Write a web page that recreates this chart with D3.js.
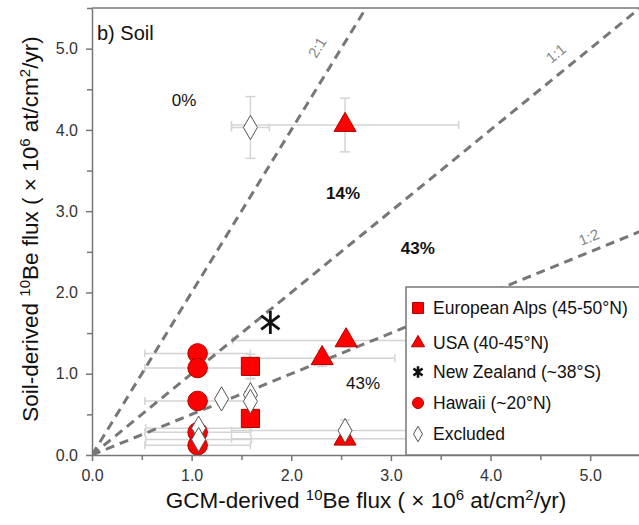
<!DOCTYPE html>
<html><head><meta charset="utf-8">
<script src="https://cdn.jsdelivr.net/npm/d3@7"></script>
<style>body{margin:0;background:#fff;}svg{display:block;font-family:"Liberation Sans",Arial,sans-serif;}</style>
</head><body><svg id="c" width="639" height="525"></svg>
<script>
// ---- data ----
const xTicks = [0, 1, 2, 3, 4, 5];
const yTicks = [0, 1, 2, 3, 4, 5];
const minorTicks = [0.5, 1.5, 2.5, 3.5, 4.5, 5.5];
const ratioLines = [{label: "2:1", slope: 2}, {label: "1:1", slope: 1}, {label: "1:2", slope: 0.5}];
const regionLabels = [
  {text: "0%", x: 0.924, y: 4.37, bold: false},
  {text: "14%", x: 2.52, y: 3.226, bold: true},
  {text: "43%", x: 3.27, y: 2.55, bold: true},
  {text: "43%", x: 2.72, y: 0.886, bold: false}
];
const alpsX = [1.59, 1.59], alpsY = [1.09, 0.45], alpsXerr = [0, 0], alpsYerr = [0.15, 0.1];
const usaX = [2.54, 2.55, 2.31, 2.54], usaY = [4.06, 1.41, 1.19, 0.2], usaXerr = [1.14, 1.14, 0.73, 1.14], usaYerr = [0.33, 0.08, 0.1, 0.08];
const nzX = [1.79], nzY = [1.63], nzXerr = [0], nzYerr = [0];
const hawaiiX = [1.06, 1.06, 1.06, 1.06, 1.06], hawaiiY = [1.25, 1.07, 0.665, 0.28, 0.12], hawaiiXerr = [0.53, 0.53, 0.53, 0.53, 0.53], hawaiiYerr = [0.05, 0.05, 0.05, 0.05, 0.05];
const exclX = [1.59, 1.30, 1.59, 1.59, 1.07, 1.07, 2.54], exclY = [4.03, 0.69, 0.74, 0.66, 0.33, 0.19, 0.30], exclXerr = [0.19, 0, 0, 0, 0.53, 0.53, 1.14], exclYerr = [0.38, 0, 0.2, 0, 0.05, 0.05, 0.13];
const legendLabels = ["European Alps (45-50°N)", "USA (40-45°N)", "New Zealand (~38°S)", "Hawaii (~20°N)", "Excluded"];

// ---- scales ----
const svg = d3.select("#c");
const x = d3.scaleLinear().domain([0, 5.5]).range([92, 640]);
const y = d3.scaleLinear().domain([0, 5.5]).range([455, 8]);
const axisCol = "#777";

// custom asterisk (vertical bar + X)
const symbolStar = {
  draw(ctx, size) {
    const r = Math.sqrt(size) / 2;
    ctx.moveTo(0, -r); ctx.lineTo(0, r);
    ctx.moveTo(-r * 0.8, -r * 0.6); ctx.lineTo(r * 0.8, r * 0.6);
    ctx.moveTo(-r * 0.8, r * 0.6); ctx.lineTo(r * 0.8, -r * 0.6);
  }
};

const zip = (xs, ys, xe, ye) => xs.map((v, i) => ({x: v, y: ys[i], xe: xe[i], ye: ye[i]}));
const groups = [
  {key: "alps", data: zip(alpsX, alpsY, alpsXerr, alpsYerr), sym: d3.symbolSquare, size: 330, lsize: 120, fill: "#f00", stroke: "#b00000"},
  {key: "usa", data: zip(usaX, usaY, usaXerr, usaYerr), sym: d3.symbolTriangle, size: 210, lsize: 75, fill: "#f00", stroke: "#b00000"},
  {key: "nz", data: zip(nzX, nzY, nzXerr, nzYerr), sym: symbolStar, size: 520, lsize: 130, fill: "none", stroke: "#111", sw: 2.8, lsw: 2.6},
  {key: "hawaii", data: zip(hawaiiX, hawaiiY, hawaiiXerr, hawaiiYerr), sym: d3.symbolCircle, size: 300, lsize: 95, fill: "#f00", stroke: "#b00000"},
  {key: "excl", data: zip(exclX, exclY, exclXerr, exclYerr), sym: d3.symbolDiamond, size: 170, lsize: 70, fill: "#fff", stroke: "#555"}
];

// clip
svg.append("defs").append("clipPath").attr("id", "pc").append("rect")
  .attr("x", 92).attr("y", 8).attr("width", 548).attr("height", 447);

const plot = svg.append("g").attr("clip-path", "url(#pc)");

// error bars
const eb = plot.append("g").attr("stroke", "#d4d4d4").attr("stroke-width", 1.5).attr("fill", "none");
groups.forEach(g => g.data.forEach(d => {
  if (d.xe > 0) {
    eb.append("line").attr("x1", x(d.x - d.xe)).attr("x2", x(d.x + d.xe)).attr("y1", y(d.y)).attr("y2", y(d.y));
    [d.x - d.xe, d.x + d.xe].forEach(v => eb.append("line").attr("x1", x(v)).attr("x2", x(v)).attr("y1", y(d.y) - 4).attr("y2", y(d.y) + 4));
  }
  if (d.ye > 0) {
    eb.append("line").attr("x1", x(d.x)).attr("x2", x(d.x)).attr("y1", y(d.y - d.ye)).attr("y2", y(d.y + d.ye));
    [d.y - d.ye, d.y + d.ye].forEach(v => eb.append("line").attr("x1", x(d.x) - 5).attr("x2", x(d.x) + 5).attr("y1", y(v)).attr("y2", y(v)));
  }
}));

// ratio lines
ratioLines.forEach(r => {
  const xe = Math.min(5.5, 5.5 / r.slope);
  plot.append("line").attr("x1", x(0)).attr("y1", y(0)).attr("x2", x(xe)).attr("y2", y(xe * r.slope))
    .attr("stroke", "#777").attr("stroke-width", 3).attr("stroke-dasharray", "9,6");
});
const lineLabelPos = {"2:1": [2.44, 21], "1:1": [4.77, 18], "1:2": [5.04, 14]};
ratioLines.forEach(r => {
  const [lx, off] = lineLabelPos[r.label], ly = lx * r.slope;
  const ang = -Math.atan((y(0) - y(r.slope)) / (x(1) - x(0))) * 180 / Math.PI;
  const px = x(lx), py = y(ly);
  svg.append("text").attr("transform", `translate(${px},${py}) rotate(${ang}) translate(0,${-off})`)
    .attr("text-anchor", "middle").attr("dy", "0.35em").attr("font-size", 15).attr("fill", "#888").text(r.label);
});

// markers
groups.forEach(g => {
  plot.append("g").selectAll("path").data(g.data).join("path")
    .attr("transform", d => `translate(${x(d.x)},${y(d.y)})`)
    .attr("d", d3.symbol().type(g.sym).size(g.size))
    .attr("fill", g.fill).attr("stroke", g.stroke).attr("stroke-width", g.sw || 1);
});

// region labels
regionLabels.forEach(l => {
  svg.append("text").attr("x", x(l.x)).attr("y", y(l.y)).attr("dy", "0.35em").attr("text-anchor", "middle")
    .attr("font-size", 17).attr("font-weight", l.bold ? "bold" : "normal").attr("fill", "#111").text(l.text);
});

// axes
const xAxis = svg.append("g").attr("transform", "translate(0,455)")
  .call(d3.axisBottom(x).tickValues(xTicks).tickFormat(d3.format(".1f")).tickSize(6).tickSizeOuter(0));
const yAxis = svg.append("g").attr("transform", "translate(92,0)")
  .call(d3.axisLeft(y).tickValues(yTicks).tickFormat(d3.format(".1f")).tickSize(6).tickSizeOuter(0));
svg.append("g").attr("transform", "translate(0,455)").call(d3.axisBottom(x).tickValues(minorTicks).tickFormat("").tickSize(5).tickSizeOuter(0)).select(".domain").remove();
svg.append("g").attr("transform", "translate(92,0)").call(d3.axisLeft(y).tickValues(minorTicks).tickFormat("").tickSize(5).tickSizeOuter(0)).select(".domain").remove();
svg.selectAll(".domain, .tick line").attr("stroke", axisCol).attr("stroke-width", 1.5);
xAxis.selectAll(".tick text").attr("font-size", 16).attr("fill", "#333").attr("y", 15);
yAxis.selectAll(".tick text").attr("font-size", 16).attr("fill", "#333").attr("x", -14);
// top frame
svg.append("line").attr("x1", 92).attr("x2", 640).attr("y1", 8).attr("y2", 8).attr("stroke", axisCol).attr("stroke-width", 1.5);

// panel label
svg.append("text").attr("x", 97).attr("y", 40).attr("font-size", 20).attr("fill", "#111").text("b) Soil");

// axis titles
function title(sel, prefix) {
  sel.append("tspan").text(prefix + " ");
  sel.append("tspan").attr("font-size", 15).attr("dy", -8).text("10");
  sel.append("tspan").attr("dy", 8).text("Be flux ( \u00D7 10");
  sel.append("tspan").attr("font-size", 15).attr("dy", -8).text("6");
  sel.append("tspan").attr("dy", 8).text(" at/cm");
  sel.append("tspan").attr("font-size", 15).attr("dy", -8).text("2");
  sel.append("tspan").attr("dy", 8).text("/yr)");
}
title(svg.append("text").attr("x", 366).attr("y", 508).attr("text-anchor", "middle").attr("font-size", 22.5).attr("fill", "#111"), "GCM-derived");
title(svg.append("text").attr("transform", "translate(38,229) rotate(-90)").attr("text-anchor", "middle").attr("font-size", 22.5).attr("fill", "#111"), "Soil-derived");

// legend
const lg = svg.append("g");
lg.append("rect").attr("x", 406).attr("y", 287).attr("width", 240).attr("height", 168).attr("fill", "#fff").attr("stroke", axisCol).attr("stroke-width", 1.5);
const legY = [308, 343, 372, 403, 434];
groups.forEach((g, i) => {
  lg.append("path").attr("transform", `translate(418,${legY[i]})`)
    .attr("d", d3.symbol().type(g.sym).size(g.lsize)).attr("fill", g.fill).attr("stroke", g.stroke).attr("stroke-width", g.lsw || 1);
  lg.append("text").attr("x", 433).attr("y", legY[i]).attr("dy", "0.35em").attr("font-size", 17.5).attr("fill", "#111").text(legendLabels[i]);
});
</script></body></html>
